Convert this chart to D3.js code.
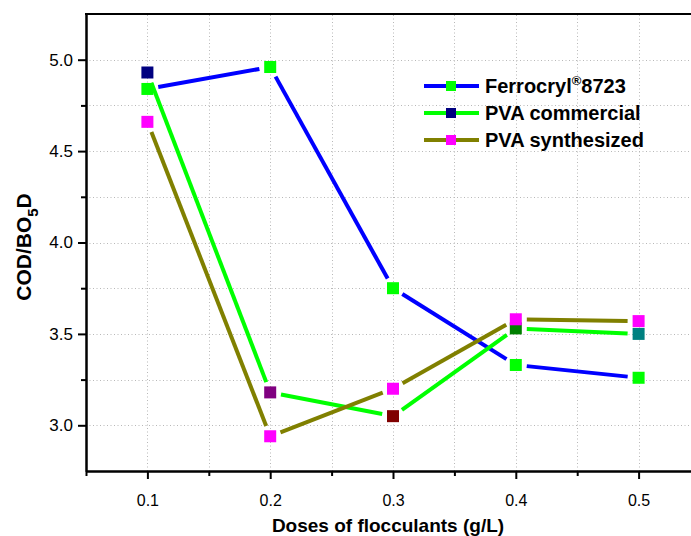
<!DOCTYPE html>
<html>
<head>
<meta charset="utf-8">
<script src="https://cdn.jsdelivr.net/npm/d3@7"></script>
<style>
  body { margin: 0; background: #fff; }
  svg { display: block; font-family: "Liberation Sans", Arial, sans-serif; }
</style>
</head>
<body>
<div id="chart"></div>
<script>
// Data
const doses = [0.1, 0.2, 0.3, 0.4, 0.5];
const ferrocryl = [4.84, 4.96, 3.75, 3.33, 3.26];
const pvaCommercial = [4.93, 3.18, 3.05, 3.53, 3.50];
const pvaSynthesized = [4.66, 2.94, 3.20, 3.58, 3.57];
const xTicks = [0.1, 0.2, 0.3, 0.4, 0.5];
const xMinor = [0.05, 0.15, 0.25, 0.35, 0.45, 0.55];
const yTicks = [3.0, 3.5, 4.0, 4.5, 5.0];
const yMinor = [3.25, 3.75, 4.25, 4.75];

const WIDTH = 691;
const HEIGHT = 536;

const svg = d3
  .select("#chart")
  .append("svg")
  .attr("width", WIDTH)
  .attr("height", HEIGHT);

const x = d3.scaleLinear().domain([0.05, 0.55]).range([86, 700]);
const y = d3.scaleLinear().domain([2.75, 5.25]).range([471, 14]);

// dotted grid at major and minor ticks
const grid = svg.append("g").attr("stroke", "#b8b8b8").attr("stroke-width", 1).attr("stroke-dasharray", "1,2.5");
grid
  .selectAll("line.vx")
  .data(xTicks.concat(xMinor.slice(1, -1)))
  .join("line")
  .attr("x1", d => Math.round(x(d)) + 0.5)
  .attr("x2", d => Math.round(x(d)) + 0.5)
  .attr("y1", y.range()[0])
  .attr("y2", y.range()[1]);
grid
  .selectAll("line.hy")
  .data(yTicks.concat(yMinor))
  .join("line")
  .attr("x1", x.range()[0])
  .attr("x2", WIDTH)
  .attr("y1", d => Math.round(y(d)) + 0.5)
  .attr("y2", d => Math.round(y(d)) + 0.5);

// axes
const xAxis = svg
  .append("g")
  .attr("transform", `translate(0, ${y.range()[0]})`)
  .call(d3.axisBottom(x).tickValues(xTicks).tickFormat(d3.format(".1f")).tickSize(8).tickSizeOuter(0));
const xAxisMinor = svg
  .append("g")
  .attr("transform", `translate(0, ${y.range()[0]})`)
  .call(d3.axisBottom(x).tickValues(xMinor).tickFormat("").tickSize(5).tickSizeOuter(0));

const yAxis = svg
  .append("g")
  .attr("transform", `translate(${x.range()[0]}, 0)`)
  .call(d3.axisLeft(y).tickValues(yTicks).tickFormat(d3.format(".1f")).tickSize(8).tickSizeOuter(0));
const yAxisMinor = svg
  .append("g")
  .attr("transform", `translate(${x.range()[0]}, 0)`)
  .call(d3.axisLeft(y).tickValues(yMinor).tickFormat("").tickSize(5).tickSizeOuter(0));

[xAxis, xAxisMinor, yAxis, yAxisMinor].forEach(g => {
  g.select(".domain").attr("stroke", "#000").attr("stroke-width", 2);
  g.selectAll(".tick line").attr("stroke", "#000").attr("stroke-width", 2);
});
xAxis.selectAll("text").attr("font-size", 16).attr("fill", "#000").attr("dy", "1.5em").attr("font-family", "Liberation Sans, Arial, sans-serif");
yAxis.selectAll("text").attr("font-size", 17).attr("fill", "#000").attr("x", -13).attr("font-family", "Liberation Sans, Arial, sans-serif");

// top frame line
svg
  .append("line")
  .attr("x1", x.range()[0] - 1)
  .attr("x2", WIDTH)
  .attr("y1", y.range()[1])
  .attr("y2", y.range()[1])
  .attr("stroke", "#000")
  .attr("stroke-width", 2);

// axis titles
svg
  .append("text")
  .attr("x", 388)
  .attr("y", 532)
  .attr("text-anchor", "middle")
  .attr("font-weight", "bold")
  .attr("font-size", 19)
  .text("Doses of flocculants (g/L)");

const yTitle = svg
  .append("text")
  .attr("transform", "translate(31, 247) rotate(-90)")
  .attr("text-anchor", "middle")
  .attr("font-weight", "bold")
  .attr("font-size", 21);
yTitle.append("tspan").text("COD/BO");
yTitle.append("tspan").attr("font-size", 15).attr("dy", 7).text("5");
yTitle.append("tspan").attr("dy", -7).text("D");

// series
const series = [
  { name: "Ferrocryl", values: ferrocryl, line: "#0000ff", markers: ["#00ff00", "#00ff00", "#00ff00", "#00ff00", "#00ff00"] },
  { name: "PVA commercial", values: pvaCommercial, line: "#00ff00", markers: ["#000080", "#800080", "#800000", "#008000", "#008080"] },
  { name: "PVA synthesized", values: pvaSynthesized, line: "#808000", markers: ["#ff00ff", "#ff00ff", "#ff00ff", "#ff00ff", "#ff00ff"] }
];

const GAP = 11; // lines stop short of markers
const SIZE = 12;

series.forEach(s => {
  const pts = doses.map((d, i) => [x(d), y(s.values[i])]);
  const segs = d3.pairs(pts).map(([a, b]) => {
    const dx = b[0] - a[0], dy = b[1] - a[1];
    const len = Math.hypot(dx, dy);
    const ux = dx / len, uy = dy / len;
    return [a[0] + ux * GAP, a[1] + uy * GAP, b[0] - ux * GAP, b[1] - uy * GAP];
  });
  svg
    .append("g")
    .selectAll("line")
    .data(segs)
    .join("line")
    .attr("x1", d => d[0])
    .attr("y1", d => d[1])
    .attr("x2", d => d[2])
    .attr("y2", d => d[3])
    .attr("stroke", s.line)
    .attr("stroke-width", 4);
});

series.forEach(s => {
  svg
    .append("g")
    .selectAll("rect")
    .data(doses)
    .join("rect")
    .attr("x", d => x(d) - SIZE / 2)
    .attr("y", (d, i) => y(s.values[i]) - SIZE / 2)
    .attr("width", SIZE)
    .attr("height", SIZE)
    .attr("fill", (d, i) => s.markers[i]);
});

// legend
const legend = svg.append("g").attr("transform", "translate(424, 86)");
series.forEach((s, i) => {
  const row = legend.append("g").attr("transform", `translate(0, ${i * 27})`);
  row.append("line").attr("x1", 0).attr("x2", 55).attr("stroke", s.line).attr("stroke-width", 4);
  row.append("rect").attr("x", 22).attr("y", -5).attr("width", 10).attr("height", 10).attr("fill", s.markers[0]);
  const t = row
    .append("text")
    .attr("x", 61)
    .attr("y", 7)
    .attr("font-weight", "bold")
    .attr("font-size", 20);
  if (i === 0) {
    t.append("tspan").text("Ferrocryl");
    t.append("tspan").attr("font-size", 13).attr("dy", -8).text("®");
    t.append("tspan").attr("dy", 8).text("8723");
  } else {
    t.text(s.name);
  }
});
</script>
</body>
</html>
